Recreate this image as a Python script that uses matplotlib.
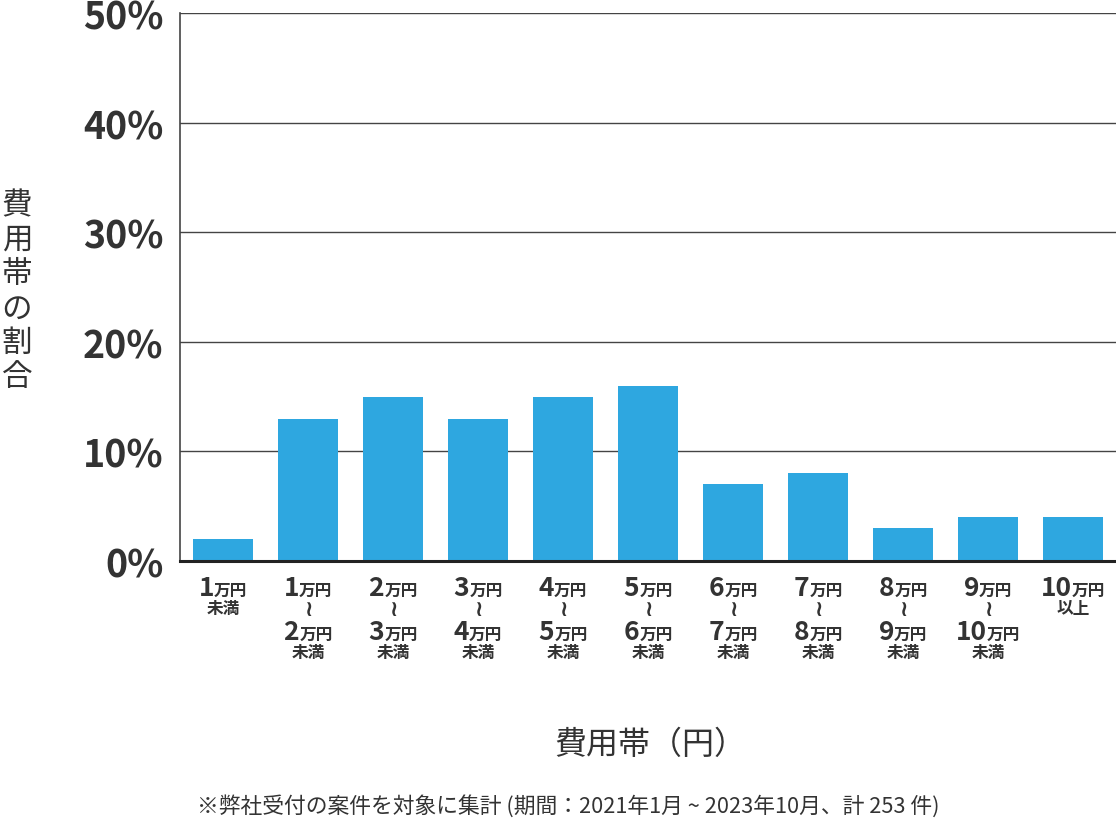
import numpy as np
import matplotlib
matplotlib.use('Agg')
import matplotlib.pyplot as plt
from matplotlib.offsetbox import TextArea, HPacker, VPacker, AnnotationBbox

plt.rcParams['font.family'] = ['Noto Sans CJK JP', 'DejaVu Sans']

# data
lower = ['1', '1', '2', '3', '4', '5', '6', '7', '8', '9', '10']
upper = [None, '2', '3', '4', '5', '6', '7', '8', '9', '10', None]
suffix = ['未満', '未満', '未満', '未満', '未満', '未満', '未満', '未満', '未満', '未満', '以上']
share = [2, 13, 15, 13, 15, 16, 7, 8, 3, 4, 4]
yticks = [0, 10, 20, 30, 40, 50]

TXT = '#333333'
BAR = '#2ea7e0'

fig = plt.figure(figsize=(11.16, 8.28), dpi=100)
ax = fig.add_axes([180 / 1116, 1 - 562 / 828, 936 / 1116, 548 / 828])

x = np.arange(len(share))
ax.bar(x, share, width=0.706, color=BAR, zorder=3)
ax.set_xlim(-0.506, len(share) - 1 + 0.506)
ax.set_ylim(0, 50)
ax.set_yticks(yticks)
ax.set_yticklabels([f'{v}%' for v in yticks], fontsize=27, fontweight='bold', color=TXT)
ax.tick_params(axis='y', length=0, pad=12)
ax.set_xticks([])
ax.grid(axis='y', color='#444444', linewidth=1, zorder=0)
for s in ['top', 'right']:
    ax.spines[s].set_visible(False)
ax.spines['left'].set_color('#444444')
ax.spines['left'].set_linewidth(1.2)
ax.spines['bottom'].set_color('#222222')
ax.spines['bottom'].set_linewidth(2.2)
ax.spines['bottom'].set_zorder(4)

num_p = dict(fontsize=19, fontweight='bold', color=TXT)
yen_p = dict(fontsize=12, fontweight='bold', color=TXT)
sub_p = dict(fontsize=12, fontweight='bold', color=TXT)
wav_p = dict(fontsize=16, fontweight='bold', color=TXT, family=['DejaVu Sans'])


def amount(n):
    return HPacker(children=[TextArea(n, textprops=num_p), TextArea('万円', textprops=yen_p)],
                   align='baseline', pad=0, sep=0)


for i in x:
    rows = [amount(lower[i])]
    if upper[i] is not None:
        rows.append(TextArea('≀', textprops=wav_p))
        rows.append(amount(upper[i]))
    rows.append(TextArea(suffix[i], textprops=sub_p))
    box = VPacker(children=rows, align='center', pad=0, sep=-1)
    ab = AnnotationBbox(box, (i, 0), xycoords=('data', 'axes fraction'),
                        xybox=(0, -9), boxcoords='offset points',
                        box_alignment=(0.5, 1), frameon=False)
    ax.add_artist(ab)

fig.text(17 / 1116, 1 - 292 / 828, '\n'.join('費用帯の割合'), fontsize=22, color=TXT,
         ha='center', va='center', linespacing=1.14)
fig.text(650 / 1116, 1 - 745 / 828, '費用帯（円）', fontsize=23, color=TXT,
         ha='center', va='center')
fig.text(197 / 1116, 1 - 806 / 828,
         '※弊社受付の案件を対象に集計 (期間：2021年1月 ~ 2023年10月、計 253 件)',
         fontsize=15.7, color=TXT, ha='left', va='center')

fig.savefig('out.png', dpi=100)
